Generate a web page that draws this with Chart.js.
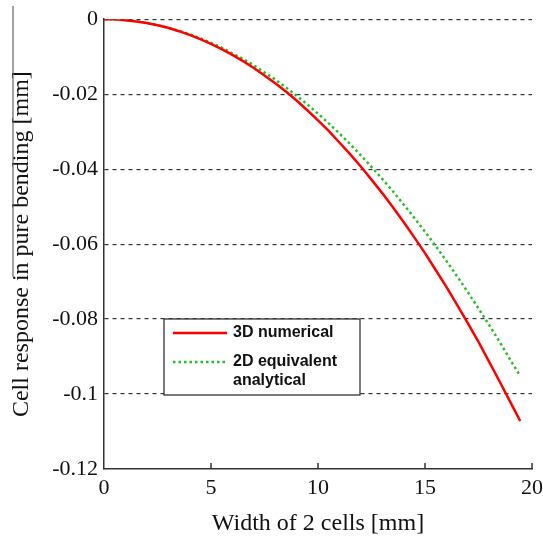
<!DOCTYPE html>
<html>
<head>
<meta charset="utf-8">
<script src="https://cdn.jsdelivr.net/npm/chart.js@4.4.0/dist/chart.umd.min.js"></script>
<style>
  html, body { margin: 0; padding: 0; background: #fff; overflow: hidden; }
  #wrap { width: 543px; height: 538px; position: relative; }
  canvas { display: block; }
</style>
</head>
<body>
<div id="wrap"><canvas id="c"></canvas></div>
<script>
// values (width in mm, response in mm)
const widths = [0, 0.5, 1, 1.5, 2, 2.5, 3, 3.5, 4, 4.5, 5, 5.5, 6, 6.5, 7, 7.5, 8, 8.5, 9, 9.5,
  10, 10.5, 11, 11.5, 12, 12.5, 13, 13.5, 14, 14.5, 15, 15.5, 16, 16.5, 17, 17.5, 18, 18.5, 19, 19.45];
const numerical3D = [0, 0, -0.0003, -0.0006, -0.0010, -0.0016, -0.0023, -0.0032, -0.0042, -0.0053,
  -0.0066, -0.0080, -0.0095, -0.0112, -0.0130, -0.0150, -0.0171, -0.0193, -0.0217, -0.0243,
  -0.0270, -0.0298, -0.0329, -0.0360, -0.0393, -0.0428, -0.0464, -0.0502, -0.0541, -0.0582,
  -0.0624, -0.0669, -0.0714, -0.0762, -0.0811, -0.0861, -0.0914, -0.0968, -0.1023, -0.1072];
const analytical2D = [0, 0, -0.0002, -0.0005, -0.0010, -0.0016, -0.0023, -0.0031, -0.0040, -0.0051,
  -0.0063, -0.0076, -0.0091, -0.0106, -0.0123, -0.0142, -0.0161, -0.0182, -0.0204, -0.0227,
  -0.0252, -0.0278, -0.0305, -0.0333, -0.0363, -0.0394, -0.0426, -0.0459, -0.0494, -0.0530,
  -0.0567, -0.0605, -0.0645, -0.0686, -0.0728, -0.0772, -0.0816, -0.0862, -0.0910, -0.0952];
const seriesNames = ['3D numerical', ['2D equivalent', 'analytical']];
const xTicks = [0, 5, 10, 15, 20];
const yTicks = [0, -0.02, -0.04, -0.06, -0.08, -0.1, -0.12];

const serif = '"Liberation Serif", "Times New Roman", serif';
const pts = (ys) => widths.map((x, i) => ({ x: x, y: ys[i] }));

// legend box, inward x ticks and the stray rule at the left edge
const boxLegend = {
    id: 'boxLegend',
    afterDraw(chart) {
        const ctx = chart.ctx;
        const xs = chart.scales.x, ys = chart.scales.y;
        ctx.save();
        ctx.strokeStyle = '#333';
        ctx.lineWidth = 1.5;
        xTicks.forEach(t => {
            if (t === 0) return;
            const px = xs.getPixelForValue(t);
            ctx.beginPath();
            ctx.moveTo(px, ys.bottom);
            ctx.lineTo(px, ys.bottom - 6);
            ctx.stroke();
        });

        // thin grey line left of the y title (it is in the original scan)
        ctx.strokeStyle = '#666';
        ctx.lineWidth = 1.2;
        ctx.beginPath();
        ctx.moveTo(13, 6);
        ctx.lineTo(13, 277);
        ctx.stroke();

        const L = 164, T = 319, W = 196, H = 76;
        ctx.fillStyle = '#fff';
        ctx.fillRect(L, T, W, H);
        ctx.strokeStyle = '#333';
        ctx.lineWidth = 1.3;
        ctx.strokeRect(L, T, W, H);

        ctx.font = 'bold 16px "Liberation Sans", Arial, sans-serif';
        ctx.fillStyle = '#111';
        ctx.textBaseline = 'middle';
        chart.data.datasets.forEach((ds, i) => {
            const yy = i === 0 ? T + 14 : T + 43;
            ctx.strokeStyle = ds.borderColor;
            ctx.lineWidth = ds.borderWidth;
            ctx.setLineDash(ds.borderDash || []);
            ctx.beginPath();
            ctx.moveTo(L + 9, yy);
            ctx.lineTo(L + 63, yy);
            ctx.stroke();
            ctx.setLineDash([]);
            const lines = Array.isArray(ds.label) ? ds.label : [ds.label];
            lines.forEach((s, j) => ctx.fillText(s, L + 69, yy + j * 19));
        });
        ctx.restore();
    }
};

new Chart(document.getElementById('c'), {
    type: 'scatter',
    data: {
        datasets: [
            { label: seriesNames[0], data: pts(numerical3D), showLine: true, borderColor: '#ff0000',
              borderWidth: 2.5, pointRadius: 0, tension: 0 },
            { label: seriesNames[1], data: pts(analytical2D), showLine: true, borderColor: '#22c022',
              borderWidth: 2.5, borderDash: [2.5, 3], pointRadius: 0, tension: 0 }
        ]
    },
    options: {
        responsive: true,
        maintainAspectRatio: false,
        animation: false,
        devicePixelRatio: 1,
        layout: { padding: { top: 18, right: 0, left: 0, bottom: 0 } },
        plugins: { legend: { display: false }, tooltip: { enabled: false } },
        scales: {
            x: {
                type: 'linear', min: 0, max: 20,
                afterBuildTicks: (s) => { s.ticks = xTicks.map(v => ({ value: v })); },
                afterFit: (s) => { s.height = 69; s.paddingRight = 11; s.paddingLeft = 0; },
                grid: { display: false, drawTicks: false },
                border: { display: true, color: '#333', width: 1.5 },
                ticks: { color: '#111', padding: 6, font: { family: serif, size: 22 } },
                title: { display: true, text: 'Width of 2 cells [mm]', color: '#111', padding: { top: 0, bottom: 0 },
                         font: { family: serif, size: 24 } }
            },
            y: {
                type: 'linear', min: -0.12, max: 0,
                afterBuildTicks: (s) => { s.ticks = yTicks.map(v => ({ value: v })); },
                afterFit: (s) => { s.width = 104; },
                grid: {
                    drawTicks: false,
                    color: (c) => (c.tick && c.tick.value === -0.12) ? 'rgba(0,0,0,0)' : '#333',
                    lineWidth: 1.2
                },
                border: { display: true, color: '#333', width: 1.5, dash: [4, 4] },
                ticks: {
                    color: '#111', padding: 6,
                    font: { family: serif, size: 22 },
                    callback: (v) => v === 0 ? '0' : String(+v.toFixed(2))
                },
                title: { display: true, text: 'Cell response in pure bending [mm]', color: '#111', padding: { top: 7 },
                         font: { family: serif, size: 24 } }
            }
        }
    },
    plugins: [boxLegend]
});
</script>
</body>
</html>
